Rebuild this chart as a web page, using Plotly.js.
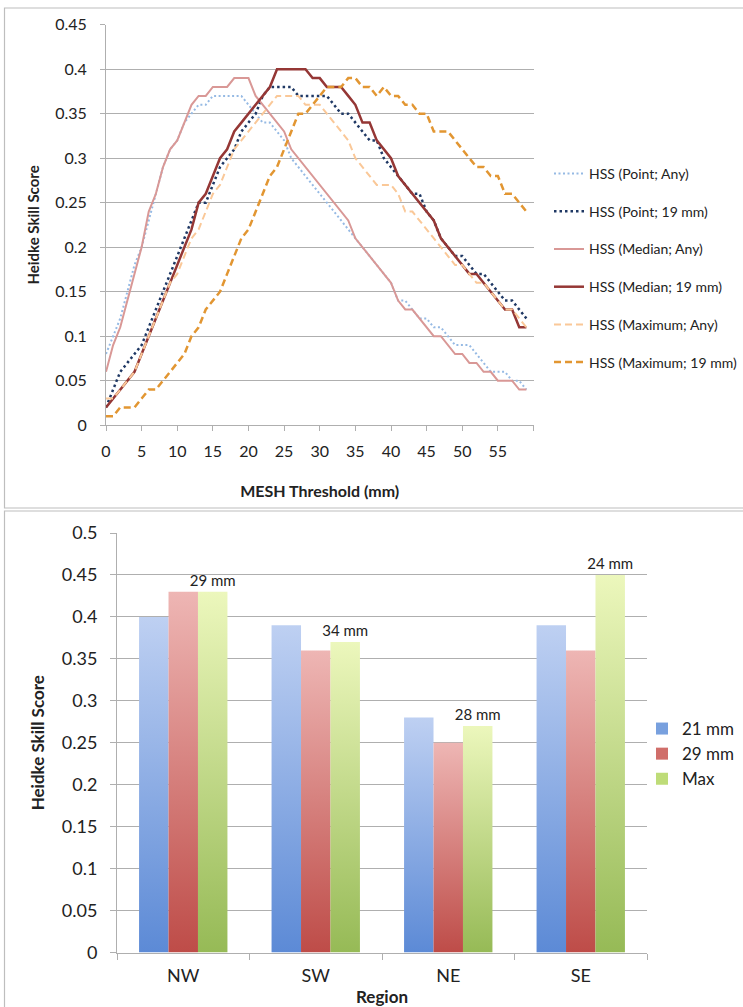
<!DOCTYPE html>
<html>
<head>
<meta charset="utf-8">
<script src="https://cdn.plot.ly/plotly-3.0.1.min.js"></script>
<style>
html,body{margin:0;padding:0;background:#fff;}
#chart{width:743px;height:1007px;}
</style>
</head>
<body>
<div id="chart"></div>
<script>
// ---- Top chart data (MESH threshold, mm) ----
var threshold = [0,1,2,3,4,5,6,7,8,9,10,11,12,13,14,15,16,17,18,19,20,21,22,23,24,25,26,27,28,29,30,31,32,33,34,35,36,37,38,39,40,41,42,43,44,45,46,47,48,49,50,51,52,53,54,55,56,57,58,59];
var xTickVals = [0,5,10,15,20,25,30,35,40,45,50,55,60];
var xTickText = ["0","5","10","15","20","25","30","35","40","45","50","55",""];

var hssPointAny = [0.08,0.10,0.12,0.15,0.18,0.20,0.23,0.26,0.29,0.31,0.32,0.34,0.35,0.36,0.36,0.37,0.37,0.37,0.37,0.37,0.36,0.35,0.34,0.34,0.33,0.32,0.30,0.29,0.28,0.27,0.26,0.25,0.24,0.23,0.22,0.21,0.20,0.19,0.18,0.17,0.16,0.14,0.14,0.13,0.12,0.12,0.11,0.11,0.10,0.09,0.09,0.09,0.08,0.07,0.06,0.06,0.06,0.05,0.05,0.04];
var hssPoint19 = [0.02,0.04,0.06,0.07,0.08,0.09,0.11,0.13,0.15,0.17,0.19,0.21,0.23,0.25,0.25,0.27,0.29,0.30,0.31,0.33,0.34,0.35,0.37,0.38,0.38,0.38,0.38,0.37,0.37,0.37,0.37,0.37,0.36,0.35,0.35,0.34,0.33,0.32,0.32,0.30,0.29,0.28,0.27,0.26,0.26,0.24,0.23,0.21,0.20,0.19,0.19,0.18,0.17,0.17,0.16,0.15,0.14,0.14,0.13,0.12];
var hssMedianAny = [0.06,0.09,0.11,0.14,0.17,0.20,0.24,0.26,0.29,0.31,0.32,0.34,0.36,0.37,0.37,0.38,0.38,0.38,0.39,0.39,0.39,0.37,0.36,0.35,0.34,0.33,0.31,0.30,0.29,0.28,0.27,0.26,0.25,0.24,0.23,0.21,0.20,0.19,0.18,0.17,0.16,0.14,0.13,0.13,0.12,0.11,0.10,0.10,0.09,0.08,0.08,0.07,0.07,0.06,0.06,0.05,0.05,0.05,0.04,0.04];
var hssMedian19 = [0.02,0.03,0.04,0.05,0.06,0.08,0.10,0.12,0.14,0.16,0.18,0.20,0.22,0.25,0.26,0.28,0.30,0.31,0.33,0.34,0.35,0.36,0.37,0.38,0.40,0.40,0.40,0.40,0.40,0.39,0.39,0.38,0.38,0.38,0.37,0.36,0.34,0.34,0.32,0.31,0.30,0.28,0.27,0.26,0.25,0.24,0.23,0.21,0.20,0.19,0.18,0.17,0.17,0.16,0.15,0.14,0.13,0.13,0.11,0.11];
var hssMaxAny = [0.03,0.03,0.04,0.05,0.06,0.08,0.10,0.12,0.14,0.16,0.17,0.19,0.21,0.22,0.24,0.26,0.27,0.29,0.31,0.32,0.33,0.34,0.35,0.36,0.37,0.37,0.37,0.37,0.36,0.36,0.36,0.35,0.34,0.33,0.32,0.30,0.29,0.28,0.27,0.27,0.27,0.26,0.24,0.24,0.23,0.22,0.21,0.20,0.19,0.18,0.18,0.17,0.16,0.16,0.15,0.14,0.13,0.13,0.12,0.11];
var hssMax19 = [0.01,0.01,0.02,0.02,0.02,0.03,0.04,0.04,0.05,0.06,0.07,0.08,0.10,0.11,0.13,0.14,0.15,0.17,0.19,0.21,0.22,0.24,0.26,0.28,0.29,0.31,0.33,0.35,0.35,0.36,0.37,0.38,0.38,0.38,0.39,0.39,0.38,0.38,0.37,0.38,0.37,0.37,0.36,0.36,0.35,0.35,0.33,0.33,0.33,0.32,0.31,0.30,0.29,0.29,0.28,0.28,0.26,0.26,0.25,0.24];

var lineNames = ["HSS (Point; Any)","HSS (Point; 19 mm)","HSS (Median; Any)","HSS (Median; 19 mm)","HSS (Maximum; Any)","HSS (Maximum; 19 mm)"];

// ---- Bottom chart data ----
var regions = ["NW","SW","NE","SE"];
var hss21 = [0.40,0.39,0.28,0.39];
var hss29 = [0.43,0.36,0.25,0.36];
var hssMax = [0.43,0.37,0.27,0.45];
var maxLabels = ["29 mm","34 mm","28 mm","24 mm"];
var barNames = ["21 mm","29 mm","Max"];

var W = 743, H = 1007;
function px(x){return x/W;}
function py(y){return (H-y)/H;}

var FONT = "Lato, 'Open Sans', sans-serif";
var txt = "#222";

function lineTrace(y, name, color, width, dash){
  return {x: threshold, y: y, name: name, type: "scatter", mode: "lines",
    line: {color: color, width: width, dash: dash},
    xaxis: "x", yaxis: "y", legend: "legend", legendgroup: name, hoverinfo: "skip"};
}

var traces = [
  lineTrace(hssPointAny, lineNames[0], "rgb(150,186,228)", 2, "2px,2.5px"),
  lineTrace(hssPoint19, lineNames[1], "rgb(31,56,100)", 2.5, "2.5px,3px"),
  lineTrace(hssMedianAny, lineNames[2], "rgb(217,152,150)", 2, "solid"),
  lineTrace(hssMedian19, lineNames[3], "rgb(149,55,53)", 2.5, "solid"),
  lineTrace(hssMaxAny, lineNames[4], "rgb(250,200,152)", 2, "7px,4px"),
  lineTrace(hssMax19, lineNames[5], "rgb(226,150,50)", 2.5, "7px,4px")
];

var barColors = ["rgb(120,160,222)","rgb(208,110,106)","rgb(190,220,120)"];
var barData = [hss21, hss29, hssMax];
for (var i=0;i<3;i++){
  var t = {x: regions, y: barData[i], name: barNames[i], type: "bar",
    marker: {color: barColors[i], line: {width: 0}},
    xaxis: "x2", yaxis: "y2", legend: "legend2", hoverinfo: "skip"};
  if (i===2){
    t.text = maxLabels; t.textposition = "outside"; t.cliponaxis = false;
    t.constraintext = "none";
    t.textfont = {family: FONT, size: 15, color: txt};
  }
  traces.push(t);
}

var gridC = "rgb(175,175,175)";
var layout = {
  width: W, height: H,
  margin: {l:0, r:0, t:0, b:0},
  paper_bgcolor: "#fff", plot_bgcolor: "#fff",
  font: {family: FONT, color: txt},
  showlegend: true,
  barmode: "group", bargap: 0.333, bargroupgap: 0,
  xaxis: {
    domain: [px(106), px(533.5)], range: [0, 60],
    tickmode: "array", tickvals: xTickVals, ticktext: xTickText,
    showgrid: false, zeroline: false,
    showline: true, linecolor: gridC, linewidth: 1,
    ticks: "outside", ticklen: 5, tickcolor: gridC,
    tickfont: {size: 16, family: FONT, color: txt},
    ticklabelstandoff: 7,
    title: {text: "<b>MESH Threshold (mm)</b>", font: {size: 16, family: FONT, color: txt}, standoff: 26},
    anchor: "y", fixedrange: true
  },
  yaxis: {
    domain: [py(425.2), py(24.7)], range: [0, 0.45],
    tick0: 0, dtick: 0.05,
    showgrid: true, gridcolor: gridC, gridwidth: 1,
    zeroline: false, showline: true, linecolor: gridC, linewidth: 1,
    ticks: "outside", ticklen: 5, tickcolor: gridC,
    tickfont: {size: 16, family: FONT, color: txt},
    ticklabelstandoff: 10,
    title: {text: "<b>Heidke Skill Score</b>", font: {size: 15, family: FONT, color: txt}, standoff: 11},
    anchor: "x", fixedrange: true
  },
  xaxis2: {
    domain: [px(117), px(647)],
    showgrid: false, zeroline: false,
    showline: true, linecolor: gridC, linewidth: 1,
    ticks: "outside", ticklen: 6, tickcolor: gridC, tickson: "boundaries",
    tickfont: {size: 18, family: FONT, color: txt},
    ticklabelstandoff: 7,
    title: {text: "<b>Region</b>", font: {size: 17, family: FONT, color: txt}, standoff: 6},
    anchor: "y2", fixedrange: true
  },
  yaxis2: {
    domain: [py(952.5), py(533)], range: [0, 0.5],
    tick0: 0, dtick: 0.05,
    showgrid: true, gridcolor: gridC, gridwidth: 1,
    zeroline: false, showline: true, linecolor: gridC, linewidth: 1,
    ticks: "outside", ticklen: 6, tickcolor: gridC,
    tickfont: {size: 18, family: FONT, color: txt},
    ticklabelstandoff: 9,
    title: {text: "<b>Heidke Skill Score</b>", font: {size: 17, family: FONT, color: txt}, standoff: 12},
    anchor: "x2", fixedrange: true
  },
  legend: {
    x: px(549), y: py(158), xanchor: "left", yanchor: "top",
    bgcolor: "rgba(0,0,0,0)", borderwidth: 0,
    font: {size: 14, family: FONT, color: txt},
    tracegroupgap: 16.5, traceorder: "grouped"
  },
  legend2: {
    x: px(642), y: py(711), xanchor: "left", yanchor: "top",
    bgcolor: "rgba(0,0,0,0)", borderwidth: 0,
    font: {size: 17, family: FONT, color: txt},
    tracegroupgap: 0, traceorder: "normal"
  },
  shapes: [
    {type: "rect", xref: "paper", yref: "paper", x0: px(4.5), x1: px(760), y0: py(508), y1: py(8),
     line: {color: "rgb(190,190,190)", width: 1.2}, fillcolor: "rgba(0,0,0,0)", layer: "below"},
    {type: "rect", xref: "paper", yref: "paper", x0: px(4.5), x1: px(760), y0: py(1020), y1: py(511),
     line: {color: "rgb(190,190,190)", width: 1.2}, fillcolor: "rgba(0,0,0,0)", layer: "below"}
  ]
};

var grads = [
  ["rgb(190,208,242)","rgb(92,138,214)"],
  ["rgb(238,182,180)","rgb(190,76,72)"],
  ["rgb(236,247,188)","rgb(150,186,86)"]
];

function applyGradients(gd){
  var svg = gd.querySelector(".main-svg");
  if(!svg) return;
  var defs = svg.querySelector("defs");
  var ns = "http://www.w3.org/2000/svg";
  if(!defs){defs = document.createElementNS(ns,"defs"); svg.insertBefore(defs, svg.firstChild);}
  grads.forEach(function(g, i){
    var id = "bargrad" + i;
    if (document.getElementById(id)) return;
    var lg = document.createElementNS(ns, "linearGradient");
    lg.setAttribute("id", id);
    lg.setAttribute("x1","0"); lg.setAttribute("y1","0");
    lg.setAttribute("x2","0"); lg.setAttribute("y2","1");
    var s1 = document.createElementNS(ns,"stop"); s1.setAttribute("offset","0"); s1.setAttribute("stop-color", g[0]);
    var s2 = document.createElementNS(ns,"stop"); s2.setAttribute("offset","1"); s2.setAttribute("stop-color", g[1]);
    lg.appendChild(s1); lg.appendChild(s2); defs.appendChild(lg);
  });
  var barTraces = gd.querySelectorAll(".barlayer .trace.bars");
  barTraces.forEach(function(tr, i){
    tr.querySelectorAll(".point path").forEach(function(p){
      p.style.fill = "url(#bargrad" + (i % 3) + ")";
    });
  });
}

var gd = document.getElementById("chart");
Plotly.newPlot(gd, traces, layout, {staticPlot: true, displayModeBar: false}).then(function(){
  applyGradients(gd);
});
</script>
</body>
</html>
